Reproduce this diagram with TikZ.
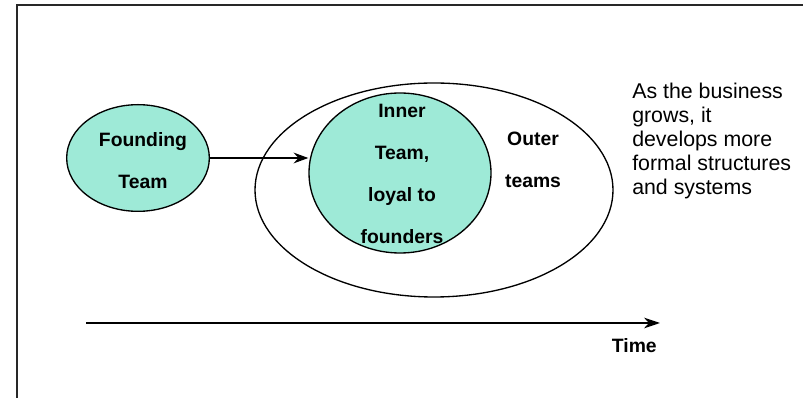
\documentclass[tikz,border=0pt]{standalone}
\usepackage{fontspec}
\setmainfont{Liberation Sans}
\usetikzlibrary{arrows.meta,positioning,shapes.geometric}
\definecolor{DotGreen}{RGB}{0,200,150}
\definecolor{FrameGray}{RGB}{40,40,40}

\begin{document}
\begin{tikzpicture}[x=.75pt,y=-.75pt,
  blob/.style={ellipse,draw,line width=1pt,inner sep=0pt},
  team/.style={blob,fill=DotGreen!38},
  boldtxt/.style={inner sep=0pt,align=center,font=\fontsize{14.5}{31.5}\selectfont\bfseries}]
\useasboundingbox (0,0) rectangle (803,398);
\draw[line width=1.5pt,FrameGray] (17,402)--(17,5)--(807,5);
% the ellipses
\node[blob,minimum width=268.5pt,minimum height=160.5pt] (outer) at (434,190) {};
\node[team,minimum width=136.5pt,minimum height=120pt] (inner) at (400,173) {};
\node[team,minimum width=107pt,minimum height=80pt] (founding) at (138,158) {};
\node[boldtxt] (foundtxt) at (143,161) {Founding\\Team};
\node[boldtxt] (innertxt) at (402,174) {Inner\\Team,\\loyal to\\founders};
\node[boldtxt] (outertxt) at (533,160) {Outer\\teams};
\draw[line width=1.5pt,-{Stealth[length=11pt,width=8pt]}] (founding.east)--(founding.east -| inner.west);
\node[anchor=north west,inner sep=0pt,align=left,font=\fontsize{16}{18}\selectfont] (note) at (632,83) {As the business\\grows, it\\develops more\\formal structures\\and systems};
% time axis
\coordinate (t0) at (86,323);\coordinate (t1) at (660,323);
\draw[line width=1.5pt,-{Stealth[length=12pt,width=8pt]}] (t0)--(t1);
\node[anchor=east,inner sep=0pt,font=\fontsize{14.5}{17}\selectfont\bfseries] (time) at (657,346) {Time};
\end{tikzpicture}
\end{document}
